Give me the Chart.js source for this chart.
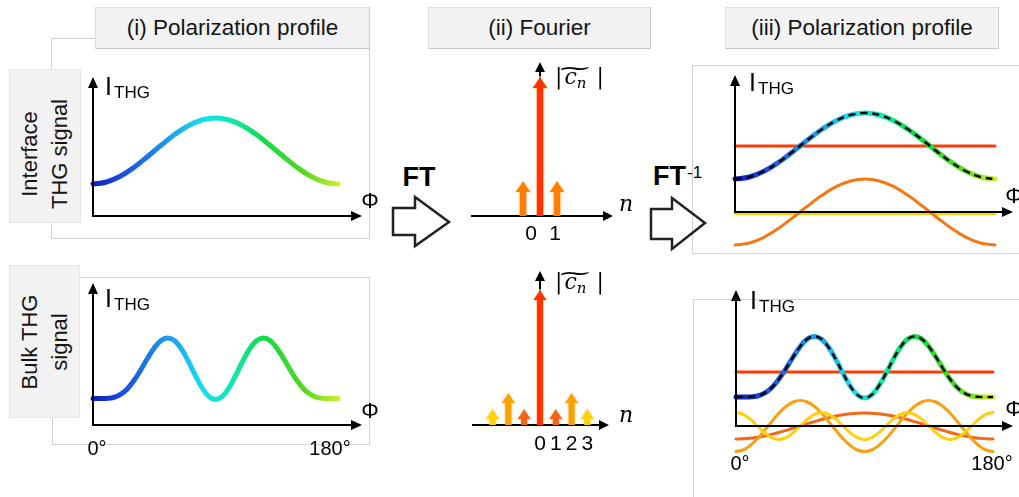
<!DOCTYPE html>
<html><head><meta charset="utf-8">
<script src="https://cdn.jsdelivr.net/npm/chart.js@4.4.1/dist/chart.umd.min.js"></script>
<style>
html,body{margin:0;padding:0;background:#fff;}
#stage{position:relative;width:1019px;height:497px;overflow:hidden;font-family:"Liberation Sans",Arial,sans-serif;color:#111;}
.ln{position:absolute;background:#d2d2d2;}
.titlebox{position:absolute;background:#f2f2f2;border:1px solid #dedede;border-right-color:#c9c9c9;border-bottom-color:#c9c9c9;box-sizing:border-box;display:flex;align-items:center;justify-content:center;font-size:22.5px;color:#151515;}
.sidebox{position:absolute;background:#f2f2f2;box-sizing:border-box;border:1px solid #e6e6e6;}
.sidebox .rot{position:absolute;left:50%;top:50%;transform:translate(-50%,-50%) rotate(-90deg);white-space:nowrap;text-align:center;font-size:22px;line-height:30px;color:#151515;}
canvas{position:absolute;}
.txt{position:absolute;white-space:nowrap;line-height:1;color:#000;}
svg{position:absolute;left:0;top:0;}
</style></head>
<body><div id="stage">
  <!-- frames -->
  <div class="ln" style="left:51px;top:38px;width:44px;height:1px"></div>
  <div class="ln" style="left:51px;top:38px;width:1px;height:200px"></div>
  <div class="ln" style="left:51px;top:238px;width:319px;height:1px"></div>
  <div class="ln" style="left:369px;top:49px;width:1px;height:189px"></div>
  <div class="ln" style="left:80px;top:277px;width:290px;height:1px"></div>
  <div class="ln" style="left:369px;top:277px;width:1px;height:167px"></div>
  <div class="ln" style="left:52px;top:444px;width:318px;height:1px"></div>
  <div class="ln" style="left:52px;top:418px;width:1px;height:26px"></div>
  <div class="ln" style="left:692px;top:65px;width:1px;height:188px"></div>
  <div class="ln" style="left:692px;top:65px;width:330px;height:1px"></div>
  <div class="ln" style="left:692px;top:253px;width:330px;height:1px"></div>
  <div class="ln" style="left:693px;top:299px;width:330px;height:1px"></div>
  <div class="ln" style="left:693px;top:299px;width:1px;height:200px"></div>
  <!-- boxes -->
  <div class="titlebox" style="left:95px;top:7px;width:275px;height:42px">(i) Polarization profile</div>
  <div class="titlebox" style="left:428px;top:7px;width:223px;height:42px">(ii) Fourier</div>
  <div class="titlebox" style="left:725px;top:7px;width:274px;height:42px">(iii) Polarization profile</div>
  <div class="sidebox" style="left:9px;top:69px;width:72px;height:154px"><div class="rot" style="top:calc(50% + 8px)">Interface<br>THG signal</div></div>
  <div class="sidebox" style="left:9px;top:265px;width:71px;height:153px"><div class="rot">Bulk THG<br>signal</div></div>
  <svg width="1019" height="497">
    <polygon points="393,208 415,208 415,197 449,222 415,246 415,235 393,235" fill="none" stroke="#222" stroke-width="2.5" stroke-linejoin="miter"/>
    <polygon points="651,209 672,209 672,198 705,223 672,249 672,239 651,239" fill="none" stroke="#222" stroke-width="2.5" stroke-linejoin="miter"/>
  </svg>
</div>
<script>
// ---------------- data ----------------
const phi10 = [0,10,20,30,40,50,60,70,80,90,100,110,120,130,140,150,160,170,180];
const phi5 = [0,5,10,15,20,25,30,35,40,45,50,55,60,65,70,75,80,85,90,95,100,105,110,115,120,125,130,135,140,145,150,155,160,165,170,175,180];

// (i) measured polarization profiles
const interfaceProfile = [32,34,39.7,48.5,59.3,70.7,81.5,90.3,96,98,96,90.3,81.5,70.7,59.3,48.5,39.7,34,32];
const bulkProfile = [26.5,26.4,26.6,27.5,30.4,35.8,44.3,54.9,66.5,77,84.6,87.1,84.3,76,63.9,50.1,37.5,28.6,25.5,28.6,37.5,50.1,63.9,76,84.3,87.1,84.6,77,66.5,54.9,44.3,35.8,30.4,27.5,26.6,26.4,26.5];

// (ii) Fourier coefficient magnitudes
const fourierTopN = [-1,0,1];
const fourierTopAmp = [35,139,35];
const fourierTopColors = ['#ff7d00','#ff3300','#ff7d00'];
const fourierBottomN = [-3,-2,-1,0,1,2,3];
const fourierBottomAmp = [16,32,16,135,16,32,16];
const fourierBottomColors = ['#ffd200','#f8a200','#f26418','#ff3300','#f26418','#f8a200','#ffd200'];

// (iii) reconstructed profiles and components
const interfaceRecon = [33,35,40.7,49.5,60.3,71.7,82.5,91.3,97,99,97,91.3,82.5,71.7,60.3,49.5,40.7,35,33];
const interfaceC0 = 66;
const interfaceC1 = [-33,-31,-25.3,-16.5,-5.7,5.7,16.5,25.3,31,33,31,25.3,16.5,5.7,-5.7,-16.5,-25.3,-31,-33];
const interfaceC2 = -1.5;
const bulkRecon = [29,28.9,29.1,30,32.9,38.3,46.8,57.4,69,79.5,87.1,89.6,86.8,78.5,66.4,52.6,40,31.1,28,31.1,40,52.6,66.4,78.5,86.8,89.6,87.1,79.5,69,57.4,46.8,38.3,32.9,30,29.1,28.9,29];
const bulkC0 = 54;
const bulkC1 = [-13,-12.8,-12.2,-11.3,-10,-8.4,-6.5,-4.4,-2.3,0,2.3,4.4,6.5,8.4,10,11.3,12.2,12.8,13,12.8,12.2,11.3,10,8.4,6.5,4.4,2.3,0,-2.3,-4.4,-6.5,-8.4,-10,-11.3,-12.2,-12.8,-13];
const bulkC2 = [-25.5,-24,-19.5,-12.8,-4.4,4.4,12.8,19.5,24,25.5,24,19.5,12.8,4.4,-4.4,-12.8,-19.5,-24,-25.5,-24,-19.5,-12.8,-4.4,4.4,12.8,19.5,24,25.5,24,19.5,12.8,4.4,-4.4,-12.8,-19.5,-24,-25.5];
const bulkC3 = [13.5,11.7,6.8,0,-6.8,-11.7,-13.5,-11.7,-6.8,0,6.8,11.7,13.5,11.7,6.8,0,-6.8,-11.7,-13.5,-11.7,-6.8,0,6.8,11.7,13.5,11.7,6.8,0,-6.8,-11.7,-13.5,-11.7,-6.8,0,6.8,11.7,13.5];

// tick labels
const angleTicks = [[0,'0°'],[180,'180°']];
const fourierTopTicks = [[0,'0'],[1,'1']];
const fourierBottomTicks = [[0,'0'],[1,'1'],[2,'2'],[3,'3']];

// ---------------- helpers ----------------
const stage = document.getElementById('stage');
const P = 14;
const pts = (xs, ys) => xs.map((x,i)=>({x:x, y:ys[i]}));
const flat = (v) => [{x:0,y:v},{x:180,y:v}];
const profileStops = [[0,'#0c1cc4'],[0.12,'#1a4ee0'],[0.3,'#1d98ea'],[0.45,'#16def0'],[0.56,'#0ee8b4'],[0.7,'#12da44'],[0.86,'#52d81e'],[1,'#c6f02a']];
function gradientColor(c){
  const ch = c.chart;
  if(!ch.chartArea) return '#1a9ae8';
  const xs = ch.scales.x;
  const g = ch.ctx.createLinearGradient(xs.getPixelForValue(0),0,xs.getPixelForValue(180),0);
  profileStops.forEach(([o,col])=>g.addColorStop(o,col));
  return g;
}

function drawAxes(chart,o){
  const {ctx, chartArea:a, scales:{x,y}} = chart;
  const y0 = y.getPixelForValue(0);
  const x0 = x.getPixelForValue(o.yAxisAt||0);
  const xs = x.getPixelForValue(o.xFrom||0);
  const h = o.head||11, hw = o.hw||5;
  ctx.save();
  ctx.strokeStyle = '#000'; ctx.fillStyle = '#000'; ctx.lineWidth = 2;
  ctx.beginPath(); ctx.moveTo(xs-1,y0); ctx.lineTo(a.right-h+1,y0); ctx.stroke();
  ctx.beginPath(); ctx.moveTo(a.right,y0); ctx.lineTo(a.right-h,y0-hw); ctx.lineTo(a.right-h,y0+hw); ctx.closePath(); ctx.fill();
  ctx.beginPath(); ctx.moveTo(x0,y0+1); ctx.lineTo(x0,a.top+h-1); ctx.stroke();
  ctx.beginPath(); ctx.moveTo(x0,a.top); ctx.lineTo(x0-hw,a.top+h); ctx.lineTo(x0+hw,a.top+h); ctx.closePath(); ctx.fill();
  ctx.restore();
}
const arrowAxes = {
  id:'arrowAxes',
  beforeDatasetsDraw(chart,args,o){ if(o && o.show && !o.onTop) drawAxes(chart,o); },
  afterDatasetsDraw(chart,args,o){ if(o && o.show && o.onTop) drawAxes(chart,o); }
};
const stemArrows = {
  id:'stemArrows',
  afterDatasetsDraw(chart,args,o){
    if(!o || !o.show) return;
    const meta = chart.getDatasetMeta(0), ds = chart.data.datasets[0], ctx = chart.ctx;
    meta.data.forEach((bar,i)=>{
      const x = bar.x, top = bar.y, base = bar.base;
      const sw = o.shaft/2, hw = o.headW/2, hh = o.headH;
      ctx.save();
      ctx.beginPath();
      ctx.moveTo(x-sw,base); ctx.lineTo(x-sw,top+hh); ctx.lineTo(x-hw,top+hh); ctx.lineTo(x,top);
      ctx.lineTo(x+hw,top+hh); ctx.lineTo(x+sw,top+hh); ctx.lineTo(x+sw,base); ctx.closePath();
      ctx.fillStyle = ds.arrowColors[i]; ctx.fill();
      ctx.beginPath();
      ctx.moveTo(x-sw-0.5,base-1); ctx.lineTo(x-sw-0.5,top+hh+0.5); ctx.lineTo(x-hw-0.7,top+hh+0.5); ctx.lineTo(x,top-0.8);
      ctx.lineTo(x+hw+0.7,top+hh+0.5); ctx.lineTo(x+sw+0.5,top+hh+0.5); ctx.lineTo(x+sw+0.5,base-1);
      ctx.strokeStyle = 'rgba(255,228,200,0.85)'; ctx.lineWidth = 1; ctx.stroke();
      ctx.restore();
    });
  }
};
Chart.register(arrowAxes, stemArrows);

function makeChart(area, xr, yr, type, datasets, pluginOpts){
  const c = document.createElement('canvas');
  const w = (area.r-area.l)+2*P, h = (area.b-area.t)+2*P;
  c.width = w; c.height = h;
  c.style.left = (area.l-P)+'px'; c.style.top = (area.t-P)+'px';
  c.style.width = w+'px'; c.style.height = h+'px';
  stage.appendChild(c);
  const chart = new Chart(c.getContext('2d'), {
    type: type,
    data: {datasets: datasets},
    options: {
      responsive:false, animation:false, devicePixelRatio:1,
      layout:{padding:P},
      elements:{point:{radius:0}},
      plugins:Object.assign({legend:{display:false}, tooltip:{enabled:false}}, pluginOpts),
      scales:{
        x:{type:'linear', display:false, offset:false, min:xr[0], max:xr[1]},
        y:{type:'linear', display:false, min:yr[0], max:yr[1]}
      }
    }
  });
  chart._off = {l:area.l-P, t:area.t-P};
  return chart;
}
function line(data, color, width, extra){
  return Object.assign({type:'line', data:data, borderColor:color, borderWidth:width, pointRadius:0, tension:0.4, fill:false, clip:false, borderCapStyle:'round'}, extra||{});
}
function txt(html, x, base, size, opts){
  opts = opts||{};
  const d = document.createElement('div');
  d.className = 'txt';
  d.innerHTML = html;
  d.style.fontSize = size+'px';
  if(opts.family) d.style.fontFamily = opts.family;
  if(opts.bold) d.style.fontWeight = 'bold';
  if(opts.italic) d.style.fontStyle = 'italic';
  d.style.left = x+'px';
  d.style.top = (base - 0.85*size)+'px';
  if(opts.center) d.style.transform = 'translateX(-50%)';
  stage.appendChild(d);
  return d;
}
function xPix(chart, v){ return chart._off.l + chart.scales.x.getPixelForValue(v); }

// ---------------- panels ----------------
const chA = makeChart({l:93,r:362,t:77,b:216},[0,197.6],[0,139],'line',[
  line(pts(phi10,interfaceProfile), gradientColor, 5)
],{arrowAxes:{show:true,onTop:true,xFrom:0}});

const chB = makeChart({l:93,r:362,t:283,b:425},[0,197.6],[0,142],'line',[
  line(pts(phi5,bulkProfile), gradientColor, 5)
],{arrowAxes:{show:true,onTop:true,xFrom:0}});

const chC = makeChart({l:472,r:613,t:62,b:216},[-4,4.29],[0,154],'bar',[
  {data:pts(fourierTopN,fourierTopAmp), arrowColors:fourierTopColors, backgroundColor:'rgba(0,0,0,0)', borderWidth:0, barThickness:7}
],{arrowAxes:{show:true,onTop:false,xFrom:-4,head:10,hw:5}, stemArrows:{show:true,shaft:7,headW:15,headH:11}});

const chD = makeChart({l:473,r:609,t:271,b:425},[-4.24,4.37],[0,154],'bar',[
  {data:pts(fourierBottomN,fourierBottomAmp), arrowColors:fourierBottomColors, backgroundColor:'rgba(0,0,0,0)', borderWidth:0, barThickness:7}
],{arrowAxes:{show:true,onTop:false,xFrom:-4.24,head:10,hw:5}, stemArrows:{show:true,shaft:6.5,headW:13.5,headH:10}});

const chE = makeChart({l:735,r:1013,t:75,b:248},[0,192.5],[-36,137],'line',[
  line(pts(phi10,interfaceRecon), '#000', 2.4, {borderDash:[7,5], borderCapStyle:'butt'}),
  line(pts(phi10,interfaceRecon), gradientColor, 5),
  line(flat(interfaceC0), '#ff3a06', 3, {tension:0}),
  line(pts(phi10,interfaceC1), '#f57814', 3),
  line(flat(interfaceC2), '#ffd200', 3, {tension:0})
],{arrowAxes:{show:true,onTop:true,xFrom:0}});

const chF = makeChart({l:736,r:1013,t:290,b:456},[0,194],[-30,136],'line',[
  line(pts(phi5,bulkRecon), '#000', 2.4, {borderDash:[7,5], borderCapStyle:'butt'}),
  line(pts(phi5,bulkRecon), gradientColor, 5),
  line(flat(bulkC0), '#ff3a06', 3, {tension:0}),
  line(pts(phi5,bulkC3), '#ffce10', 3),
  line(pts(phi5,bulkC2), '#f8a010', 3),
  line(pts(phi5,bulkC1), '#f06818', 3)
],{arrowAxes:{show:true,onTop:true,xFrom:0}});

// ---------------- text ----------------
function ithg(x, base){
  txt('I', x, base, 25);
  txt('THG', x+9, base+3.5, 17);
}
ithg(105,95); ithg(105,307); ithg(749,91); ithg(750,309);
txt('Φ',370,209,22,{center:true}); txt('Φ',370,419,22,{center:true});
txt('Φ',1014,204,22,{center:true}); txt('Φ',1014,417,22,{center:true});

angleTicks.forEach(([v,s],i)=>{
  const nudge = i===0 ? 4 : -8;
  txt(s, xPix(chB,v)+nudge, 455, 20, {center:true});
  txt(s, xPix(chF,v)+(i===0?4:-1), 470, 20, {center:true});
});
fourierTopTicks.forEach(([v,s],i)=>{ txt(s, xPix(chC,v)+(i===0?-9:-2), 240, 21, {center:true}); });
fourierBottomTicks.forEach(([v,s])=>{ txt(s, xPix(chD,v), 450, 21, {center:true}); });

const serif = '"DejaVu Serif","Liberation Serif",serif';
txt('n', 619, 212, 22, {italic:true, family:serif});
txt('n', 619, 423, 22, {italic:true, family:serif});
const cn = '|<span style="position:relative;display:inline-block;margin:0 3px 0 2px"><i>c</i><i style="font-size:15px;position:relative;top:4px">n</i><span style="position:absolute;left:0;right:0;top:-9px;text-align:center;display:block;transform:scaleX(2)">~</span></span>&nbsp;|';
txt(cn, 555, 85, 22, {family:serif});
txt(cn, 555, 290, 22, {family:serif});

txt('FT', 419, 187, 27, {center:true, bold:true});
txt('FT', 653, 186, 27, {bold:true});
txt('-1', 687, 178, 17);
</script>
</body></html>
